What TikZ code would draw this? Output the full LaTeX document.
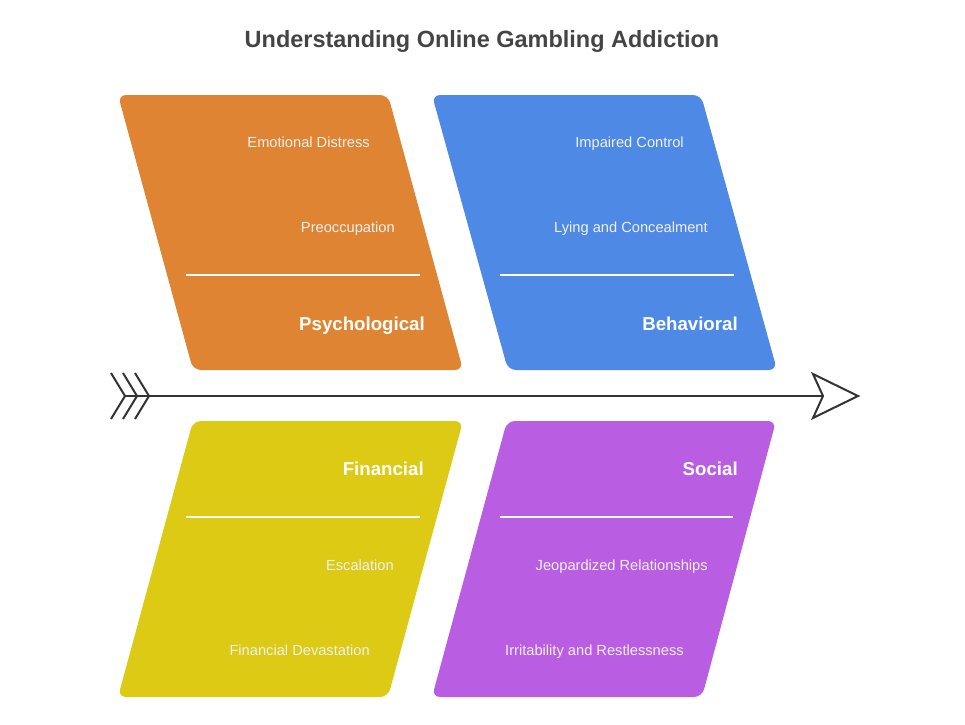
\documentclass[tikz,border=0pt]{standalone}
\usepackage{fontspec}
\setmainfont{Liberation Sans}
\usepackage{xcolor}
\usetikzlibrary{calc}

\definecolor{psycol}{RGB}{222,132,50}
\definecolor{behcol}{RGB}{78,137,230}
\definecolor{fincol}{RGB}{220,202,20}
\definecolor{soccol}{RGB}{185,94,227}
\definecolor{spinecol}{RGB}{51,51,51}
\definecolor{titlecol}{RGB}{68,68,68}

\begin{document}
\begin{tikzpicture}[x=0.75pt,y=-0.75pt,
  box/.style={rounded corners=6pt},
  item/.style={anchor=mid east, inner sep=0pt, text=white!94!black,
    font=\fontsize{11}{13}\selectfont},
  head/.style={anchor=mid east, inner sep=0pt, text=white,
    font=\bfseries\fontsize{14}{16}\selectfont},
  sep/.style={draw=white, line width=1.1pt},
  spine/.style={draw=spinecol, line width=1.5pt}]

  \useasboundingbox (0,0) rectangle (965,725);

  \node[text=titlecol, font=\bfseries\fontsize{17.6}{21}\selectfont] (title) at (482,41)
    {Understanding Online Gambling Addiction};

  % top row
  \fill[psycol, box] (118,95) -- (388,95) -- (463,370) -- (193,370) -- cycle;
  \fill[behcol, box] (432,95) -- (701,95) -- (777,370) -- (508,370) -- cycle;
  % bottom row
  \fill[fincol, box] (193,421) -- (463,421) -- (388,697) -- (118,697) -- cycle;
  \fill[soccol, box] (507,421) -- (776,421) -- (702,697) -- (432,697) -- cycle;

  % psychological
  \node[item] (psyA) at (370,144) {Emotional Distress};
  \node[item] (psyB) at (395,229) {Preoccupation};
  \draw[sep] (186,275) -- (420,275);
  \node[head] (psy) at (425,327) {Psychological};

  % behavioral
  \node[item] (behA) at (684,144) {Impaired Control};
  \node[item] (behB) at (708,229) {Lying and Concealment};
  \draw[sep] (500,275) -- (734,275);
  \node[head] (beh) at (738,327) {Behavioral};

  % financial
  \node[head] (fin) at (424,472) {Financial};
  \draw[sep] (186,517) -- (420,517);
  \node[item] (finA) at (394,567) {Escalation};
  \node[item] (finB) at (370,652) {Financial Devastation};

  % social
  \node[head] (soc) at (738,472) {Social};
  \draw[sep] (500,517) -- (733,517);
  \node[item] (socA) at (708,567) {Jeopardized Relationships};
  \node[item] (socB) at (684,652) {Irritability and Restlessness};

  % spine
  \coordinate (tail) at (125,396);
  \coordinate (head) at (823,396);
  \draw[spine] (tail) -- (head);
  \foreach \x in {111,123,135}
    \draw[spine] (\x,373) -- (\x+14,396) -- (\x,419);
  \filldraw[spine, fill=white] (813,374) -- (858,396) -- (813,418) -- (head) -- cycle;
\end{tikzpicture}
\end{document}
